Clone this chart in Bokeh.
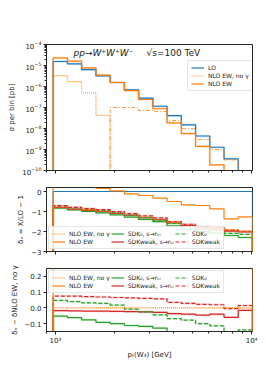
import math
from bokeh.plotting import figure
from bokeh.layouts import column
from bokeh.models import (Legend, LegendItem, Label, FixedTicker, Range1d,
                          CustomJSTickFormatter)
from bokeh.embed import file_html
from bokeh.resources import INLINE

nan = float("nan")

# ---------------- data ----------------
bin_edges = [973, 1151, 1360, 1608, 1900, 2246, 2654, 3137, 3708, 4383,
             5180, 6123, 7237, 8553, 10110]

# panel 1: sigma per bin [pb]
lo_xs = [1.55e-5, 1.2e-5, 6.4e-6, 3.2e-6, 1.55e-6, 6.9e-7, 2.8e-7, 1.15e-7,
         4.1e-8, 1.5e-8, 4.4e-9, 1.28e-9, 3.6e-10, 6e-11]
nlo_ew_xs = [2.3e-5, 1.6e-5, 7.7e-6, 3.5e-6, 1.55e-6, 6.4e-7, 2.4e-7, 8.7e-8,
             1.85e-8, 5.7e-9, 1.4e-9, 1.85e-10, nan, nan]
nlo_noa_xs = [3.3e-6, 1.7e-6, 5.0e-7, 4.2e-8, nan, nan, nan, nan, nan, nan,
              nan, nan, nan, nan]
nlo_noa_xs_negabs = [nan, nan, nan, nan, 1.0e-7, 1.0e-7, 7.2e-8, 6.5e-8,
                     2.4e-8, 9.8e-9, 3.0e-9, 1.0e-9, 3.2e-10, nan]

# panel 2: delta_X = X/LO - 1
d_lo = [0.0] * 14
d_nlo_ew = [0.5, 0.35, 0.25, 0.15, 0.03, -0.12, -0.2, -0.33, -0.5, -0.67,
            -0.7, -0.87, -1.37, -1.27]
d_nlo_noa = [-0.78, -0.86, -0.92, -0.98, -1.07, -1.17, -1.28, -1.38, -1.53,
             -1.67, -1.78, -1.83, -1.92, -2.0]
d_sdk0_sr = [-0.83, -0.92, -1.0, -1.07, -1.17, -1.28, -1.4, -1.51, -1.72,
             -1.88, -2.01, -2.08, -2.2, -2.3]
d_sdkw_sr = [-0.8, -0.88, -0.94, -1.0, -1.09, -1.19, -1.31, -1.41, -1.57,
             -1.71, -1.83, -1.87, -1.98, -2.02]
d_sdk0 = [-0.73, -0.82, -0.89, -0.95, -1.05, -1.18, -1.31, -1.43, -1.6,
          -1.75, -1.88, -1.94, -2.09, -2.14]
d_sdkw = [-0.71, -0.79, -0.85, -0.91, -1.0, -1.11, -1.22, -1.32, -1.5,
          -1.64, -1.76, -1.81, -1.93, -1.99]

# panel 3: delta_X - delta_(NLO EW, no gamma)
r_nlo_noa = [0.0] * 14
r_nlo_ew = [1.28, 1.21, 1.17, 1.13, 1.1, 1.05, 1.08, 1.05, 1.03, 1.0, 1.08,
            0.96, 0.55, 0.73]
r_sdk0_sr = [-0.053, -0.062, -0.076, -0.092, -0.1, -0.112, -0.118, -0.128,
             -0.19, -0.21, -0.23, -0.25, -0.28, -0.3]
r_sdkw_sr = [-0.018, -0.019, -0.02, -0.021, -0.022, -0.024, -0.026, -0.028,
             -0.036, -0.04, -0.046, -0.04, -0.06, -0.016]
r_sdk0 = [0.047, 0.04, 0.032, 0.028, 0.018, -0.008, -0.025, -0.045, -0.068,
          -0.078, -0.1, -0.114, -0.17, -0.14]
r_sdkw = [0.075, 0.074, 0.071, 0.069, 0.066, 0.063, 0.06, 0.057, 0.035,
          0.028, 0.022, 0.02, -0.005, 0.015]

x_ticks = [1000, 10000]
x_tick_labels = {1000: "10³", 10000: "10⁴"}
x_minor = [900, 2000, 3000, 4000, 5000, 6000, 7000, 8000, 9000]
y1_ticks = [1e-10, 1e-9, 1e-8, 1e-7, 1e-6, 1e-5, 1e-4]
y2_ticks = [-3, -2, -1, 0]
y3_ticks = [-0.1, 0.0, 0.1, 0.2]

BLUE, ORANGE, GREEN, RED = "#1f77b4", "#ff7f0e", "#2ca02c", "#d62728"
FONT = "DejaVu Sans"
SPINE = "#262626"
TXT = "#222222"


def step(vals, floor):
    xs, ys = [bin_edges[0]], [floor]
    for i, v in enumerate(vals):
        if v is None or (isinstance(v, float) and math.isnan(v)):
            v = floor
        xs += [bin_edges[i], bin_edges[i + 1]]
        ys += [v, v]
    xs.append(bin_edges[-1])
    ys.append(floor)
    return xs, ys


def make_fig(height_frame, y_range, y_log, top, bottom):
    p = figure(frame_width=206, frame_height=height_frame,
               x_axis_type="log", y_axis_type="log" if y_log else "linear",
               x_range=Range1d(900, 10110), y_range=y_range,
               output_backend="svg", toolbar_location=None,
               min_border_left=46, min_border_right=6,
               min_border_top=top, min_border_bottom=bottom)
    p.xgrid.visible = False
    p.ygrid.visible = False
    p.outline_line_color = SPINE
    p.outline_line_width = 1
    p.background_fill_color = "white"
    for ax in (p.xaxis, p.yaxis):
        ax.axis_line_color = SPINE
        ax.major_tick_line_color = SPINE
        ax.minor_tick_line_color = SPINE
        ax.major_tick_in = 0
        ax.major_tick_out = 3
        ax.minor_tick_in = 0
        ax.minor_tick_out = 2
        ax.major_label_text_font = FONT
        ax.major_label_text_font_size = "7px"
        ax.major_label_text_color = TXT
        ax.axis_label_text_font = FONT
        ax.axis_label_text_font_size = "7px"
        ax.axis_label_text_font_style = "normal"
        ax.axis_label_text_color = TXT
        ax.major_label_standoff = 2
        ax.axis_label_standoff = 3
    p.xaxis.ticker = FixedTicker(ticks=x_ticks, minor_ticks=x_minor)
    p.xaxis.major_label_overrides = x_tick_labels
    return p


def hide_x_labels(p):
    p.xaxis.major_label_text_alpha = 0
    p.xaxis.major_label_text_font_size = "4px"
    p.xaxis.major_label_standoff = 0


def style_legend(lg):
    lg.label_text_font = FONT
    lg.label_text_font_size = "6px"
    lg.label_text_color = TXT
    lg.label_height = 7
    lg.glyph_height = 7
    lg.glyph_width = 13
    lg.label_standoff = 4
    lg.spacing = 1
    lg.padding = 3
    lg.margin = 2
    lg.border_line_color = "#cccccc"
    lg.border_line_width = 1
    lg.background_fill_alpha = 0.85


def band(p, vals, floor, color):
    xs, ys = step(vals, floor)
    p.line(xs, ys, color=color, line_width=2.4, line_alpha=0.16)


# ---------------- panel 1 ----------------
p1 = make_fig(126, Range1d(1e-10, 1e-4), True, 44, 8)
hide_x_labels(p1)
p1.yaxis.ticker = FixedTicker(
    ticks=y1_ticks,
    minor_ticks=[m * t for t in y1_ticks[:-1] for m in range(2, 10)])
p1.yaxis.axis_label = "σ per bin [pb]"

F1 = 1e-14
band(p1, lo_xs, F1, BLUE)
band(p1, nlo_ew_xs, F1, ORANGE)
xs, ys = step(lo_xs, F1)
r_lo = p1.line(xs, ys, color=BLUE, line_width=1.2)
xs, ys = step(nlo_noa_xs_negabs, F1)
p1.line(xs, ys, color=ORANGE, line_width=1.0, line_dash="4 2 1 2", line_alpha=0.8)
xs, ys = step(nlo_noa_xs, F1)
r_noa = p1.line(xs, ys, color=ORANGE, line_width=1.2, line_dash="1 1",
                line_alpha=0.8)
xs, ys = step(nlo_ew_xs, F1)
r_ew = p1.line(xs, ys, color=ORANGE, line_width=1.2)

lg1 = Legend(items=[LegendItem(label="LO", renderers=[r_lo]),
                    LegendItem(label="NLO EW, no γ", renderers=[r_noa]),
                    LegendItem(label="NLO EW", renderers=[r_ew])],
             location=(141, 79))
style_legend(lg1)
p1.add_layout(lg1)

p1.add_layout(Label(x=27, y=118, x_units="screen", y_units="screen",
                    text="pp→W⁺W⁺W⁻", text_align="left",
                    text_baseline="middle", text_font=FONT,
                    text_font_style="italic",
                    text_font_size="9px", text_color=TXT))
p1.add_layout(Label(x=100, y=118, x_units="screen", y_units="screen",
                    text="√s=100 TeV", text_align="left",
                    text_baseline="middle", text_font=FONT,
                    text_font_size="9px", text_color=TXT))


def ratio_panel(p, vals, floor):
    series = [
        (vals["noa"], ORANGE, "1 1", "NLO EW, no γ"),
        (vals["ew"], ORANGE, None, "NLO EW"),
        (vals["sdk0_sr"], GREEN, None, "SDK₀, s→rₖₗ"),
        (vals["sdkw_sr"], RED, None, "SDKweak, s→rₖₗ"),
        (vals["sdk0"], GREEN, "4 2", "SDK₀"),
        (vals["sdkw"], RED, "4 2", "SDKweak"),
    ]
    for idx in [2, 3, 4, 5]:
        band(p, series[idx][0], floor, series[idx][1])
    rends = {}
    for idx in [2, 3, 4, 5, 0, 1]:
        v, c, dash, lab = series[idx]
        xs, ys = step(v, floor)
        kw = dict(color=c, line_width=1.2)
        if dash:
            kw["line_dash"] = dash
        rends[idx] = p.line(xs, ys, **kw)
    return [LegendItem(label=series[i][3], renderers=[rends[i]]) for i in range(6)]


# ---------------- panel 2 ----------------
p2 = make_fig(64, Range1d(-3, 0.2), False, 9, 8)
hide_x_labels(p2)
p2.yaxis.ticker = FixedTicker(ticks=y2_ticks)
p2.yaxis.formatter = CustomJSTickFormatter(
    code="return tick.toFixed(0).replace('-', '\u2212');")
p2.yaxis.axis_label = "δₓ = X/LO − 1"
xs, ys = step(d_lo, -20)
p2.line(xs, ys, color=BLUE, line_width=1.2)
items2 = ratio_panel(p2, dict(noa=d_nlo_noa, ew=d_nlo_ew, sdk0_sr=d_sdk0_sr,
                              sdkw_sr=d_sdkw_sr, sdk0=d_sdk0, sdkw=d_sdkw), -20)
lg2 = Legend(items=items2, location="bottom_left", orientation="vertical", nrows=2)
style_legend(lg2)
p2.add_layout(lg2)

# ---------------- panel 3 ----------------
p3 = make_fig(63, Range1d(-0.15, 0.25), False, 9, 30)
p3.xaxis.axis_label = "pₜ(W₃) [GeV]"
p3.yaxis.ticker = FixedTicker(ticks=y3_ticks)
p3.yaxis.formatter = CustomJSTickFormatter(
    code="return tick.toFixed(1).replace('-', '\u2212');")
p3.yaxis.axis_label = "δₓ − δNLO EW, no γ"
items3 = ratio_panel(p3, dict(noa=r_nlo_noa, ew=r_nlo_ew, sdk0_sr=r_sdk0_sr,
                              sdkw_sr=r_sdkw_sr, sdk0=r_sdk0, sdkw=r_sdkw), -3)
lg3 = Legend(items=items3, location="top_left", orientation="vertical", nrows=2)
style_legend(lg3)
p3.add_layout(lg3)

layout = column(p1, p2, p3, spacing=0)
open("out.html", "w").write(file_html(layout, INLINE))
